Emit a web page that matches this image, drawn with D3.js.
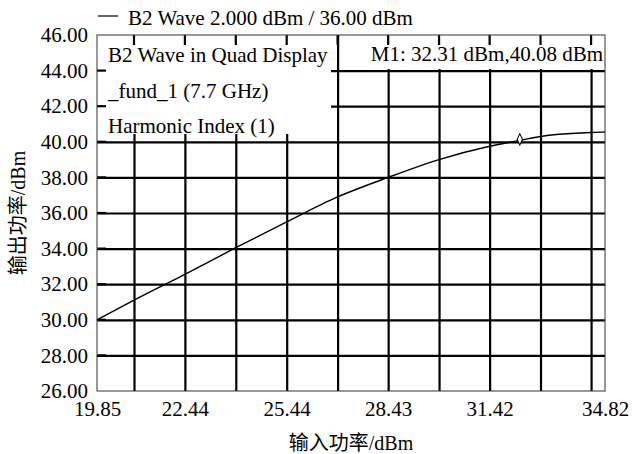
<!DOCTYPE html>
<html>
<head>
<meta charset="UTF-8">
<script src="https://cdn.jsdelivr.net/npm/d3@7"></script>
<style>
    body { margin: 0; background: #fff; }
    text { font-family: 'Liberation Serif', 'Noto Sans CJK SC', serif; fill: #000; }
</style>
</head>
<body>
<div id="chart"></div>
<script>
// curve
const inputPower  = [19.85, 20.94, 22.44, 23.94, 25.44, 26.94, 28.43, 29.93, 31.42, 32.31, 32.92, 34.41, 34.82];
const outputPower = [30.00, 31.10, 32.55, 34.05, 35.50, 36.90, 38.00, 39.00, 39.75, 40.08, 40.30, 40.52, 40.55];
const xLabelTicks = [19.85, 22.44, 25.44, 28.43, 31.42, 34.82];
const xGridTicks  = [20.94, 22.44, 23.94, 25.44, 26.94, 28.43, 29.93, 31.42, 32.92, 34.41];
const yTicks      = [26, 28, 30, 32, 34, 36, 38, 40, 42, 44, 46];
const marker      = { x: 32.31, y: 40.08, label: "M1: 32.31 dBm,40.08 dBm" };
const legendLines = ["B2 Wave in Quad Display", "_fund_1 (7.7 GHz)", "Harmonic Index (1)"];
const traceName   = "B2 Wave 2.000 dBm / 36.00 dBm";

const W = 633, H = 454;
const margin = { left: 97, right: 28, top: 35, bottom: 63 };
const w = W - margin.left - margin.right;
const h = H - margin.top - margin.bottom;
const fs = 21;

const svg = d3.select("#chart").append("svg")
    .attr("width", W).attr("height", H);
const g = svg.append("g").attr("transform", `translate(${margin.left},${margin.top})`);

const x = d3.scaleLinear().domain([19.85, 34.82]).range([0, w]);
const y = d3.scaleLinear().domain([26, 46]).range([h, 0]);

// grid
const gx = g.append("g").attr("transform", `translate(0,${h})`)
    .call(d3.axisBottom(x).tickValues(xGridTicks).tickSize(h).tickFormat(""));
gx.selectAll(".tick line").attr("y2", -h).attr("stroke", "#000").attr("stroke-width", 2.2);
gx.select(".domain").remove();

const gy = g.append("g")
    .call(d3.axisLeft(y).tickValues(yTicks.slice(1, -1)).tickSize(-w).tickFormat(""));
gy.selectAll(".tick line").attr("stroke", "#000").attr("stroke-width", 2.2);
gy.select(".domain").remove();

// curve
const pts = inputPower.map((v, i) => [v, outputPower[i]]);
g.append("path").datum(pts)
    .attr("fill", "none").attr("stroke", "#000").attr("stroke-width", 1.4)
    .attr("d", d3.line().x(d => x(d[0])).y(d => y(d[1])).curve(d3.curveMonotoneX));

// marker
g.append("path")
    .attr("d", d3.symbol(d3.symbolDiamond, 36)())
    .attr("transform", `translate(${x(marker.x)},${y(marker.y) - 1}) scale(0.85,1)`)
    .attr("fill", "#fff").attr("stroke", "#000").attr("stroke-width", 1.2);

// legend box and marker box
g.append("rect").attr("x", 0).attr("y", 0).attr("width", 234).attr("height", 99).attr("fill", "#fff");
g.append("rect").attr("x", 243).attr("y", 0).attr("width", w - 243).attr("height", 34).attr("fill", "#fff");

legendLines.forEach((t, i) => {
    g.append("text").attr("x", 11).attr("y", 27 + i * 35.5)
        .attr("font-size", fs).text(t);
});
g.append("text").attr("x", w - 2).attr("y", 26).attr("text-anchor", "end")
    .attr("font-size", fs).text(marker.label);

// inward ticks on top and left
g.selectAll(".ttick").data(xGridTicks).enter().append("line")
    .attr("x1", d => x(d)).attr("x2", d => x(d)).attr("y1", 0).attr("y2", 10)
    .attr("stroke", "#000").attr("stroke-width", 2.2);
g.selectAll(".ltick").data(yTicks.slice(1, -1)).enter().append("line")
    .attr("x1", 0).attr("x2", 9).attr("y1", d => y(d)).attr("y2", d => y(d))
    .attr("stroke", "#000").attr("stroke-width", 2.2);

// frame
g.append("rect").attr("x", 0).attr("y", 0).attr("width", w).attr("height", h)
    .attr("fill", "none").attr("stroke", "#333").attr("stroke-width", 1);

// tick labels
const ax = g.append("g").attr("transform", `translate(0,${h})`)
    .call(d3.axisBottom(x).tickValues(xLabelTicks).tickSize(0).tickPadding(9).tickFormat(d3.format(".2f")));
ax.select(".domain").remove();
ax.selectAll("text").attr("font-size", fs).attr("font-family", "'Liberation Serif', serif").attr("dy", "0.74em");

const ay = g.append("g")
    .call(d3.axisLeft(y).tickValues(yTicks).tickSize(0).tickPadding(9).tickFormat(d3.format(".2f")));
ay.select(".domain").remove();
ay.selectAll("text").attr("font-size", fs).attr("font-family", "'Liberation Serif', serif");

// trace legend on top
svg.append("line").attr("x1", 98).attr("x2", 118).attr("y1", 16).attr("y2", 16)
    .attr("stroke", "#000").attr("stroke-width", 1.2);
svg.append("text").attr("x", 128).attr("y", 25).attr("font-size", fs).text(traceName);

// axis titles
svg.append("text").attr("x", 351).attr("y", 450).attr("text-anchor", "middle")
    .attr("font-size", 20).text("输入功率/dBm");
svg.append("text").attr("transform", "translate(25,213) rotate(-90)").attr("text-anchor", "middle")
    .attr("font-size", 20).text("输出功率/dBm");
</script>
</body>
</html>
